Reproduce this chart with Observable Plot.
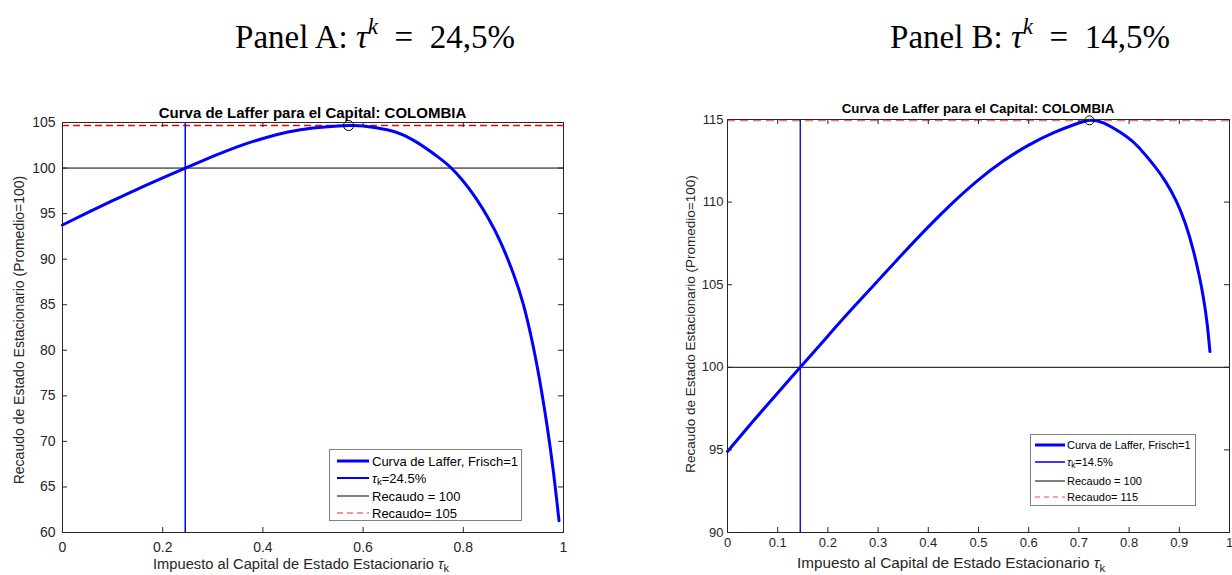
<!DOCTYPE html>
<html><head><meta charset="utf-8">
<script src="https://cdn.jsdelivr.net/npm/d3@7"></script>
<script src="https://cdn.jsdelivr.net/npm/@observablehq/plot@0.6"></script>
<style>
body{margin:0;background:#fff;}
#root{position:relative;width:1232px;height:575px;overflow:hidden;font-family:"Liberation Sans",Arial,Helvetica,sans-serif;color:#262626;background:#fff}
.abs{position:absolute;white-space:nowrap;line-height:1}
.c{transform:translate(-50%,-50%)}
.panel{font-family:"Liberation Serif","DejaVu Serif",serif;color:#000}
.title{font-weight:bold;color:#000}
.ylab{transform:translate(-50%,-50%) rotate(-90deg)}
.legend{position:absolute;border:1px solid #808080;background:#fff;box-sizing:border-box}
.row{position:absolute;left:0;white-space:nowrap;color:#000;line-height:1}
.row svg{position:absolute;top:-3px}
.row span{position:absolute;transform:translateY(-50%)}
sub{font-size:75%;vertical-align:-0.3em;line-height:0}
sup{font-size:70%;vertical-align:0.6em;line-height:0}
svg.plot{position:absolute;top:0}
</style></head><body><div id="root"></div>
<script>
// ---------- data ----------
// Panel A (tau_k = 24.5%)
const tauA = [0,0.05,0.1,0.15,0.2,0.245,0.3,0.35,0.4,0.45,0.5,0.55,0.575,0.6,0.65,0.7,0.75,0.776,0.8,0.825,0.85,0.875,0.9,0.92,0.94,0.955,0.967,0.98,0.991];
const revA = [93.75,95.1,96.42,97.7,98.92,100,101.27,102.35,103.25,103.95,104.4,104.62,104.67,104.62,104.17,103.07,101.2,100,98.55,96.7,94.5,91.8,88.4,85.0,80.3,75.9,71.8,66.6,61.3];
// Panel B (tau_k = 14.5%)
const tauB = [0,0.05,0.1,0.145,0.2,0.25,0.3,0.35,0.4,0.45,0.5,0.55,0.6,0.65,0.69,0.721,0.75,0.794,0.82,0.848,0.872,0.894,0.912,0.9275,0.94,0.9475,0.955,0.961];
const revB = [94.9,96.7,98.45,100,101.9,103.6,105.25,106.9,108.5,110.0,111.35,112.5,113.45,114.2,114.68,114.95,114.78,113.99,113.29,112.28,111.27,110.06,108.71,107.13,105.5,104.3,102.76,100.95];
// reference lines / markers  [A, B]
const taxRate = [0.245, 0.145];
const baseRevenue = [100, 100];
const peakTau = [0.571, 0.721];
const peakRev = [104.67, 114.95];
// axes
const xTicksA = [0,0.2,0.4,0.6,0.8,1];
const yTicksA = [60,65,70,75,80,85,90,95,100,105];
const xTicksB = [0,0.1,0.2,0.3,0.4,0.5,0.6,0.7,0.8,0.9,1];
const yTicksB = [90,95,100,105,110,115];
const yDomainA = [60,105];
const yDomainB = [90,115];
// texts
const panelLabels = ["Panel A: ", "Panel B: "];
const panelRates = ["24,5%", "14,5%"];
const chartTitle = "Curva de Laffer para el Capital: COLOMBIA";
const yLabel = "Recaudo de Estado Estacionario (Promedio=100)";
const xLabel = "Impuesto al Capital de Estado Estacionario ";
const legendCurve = "Curva de Laffer, Frisch=1";
const legendRate = ["=24.5%", "=14.5%"];
const legendBase = "Recaudo = 100";
const legendPeak = ["Recaudo= 105", "Recaudo= 115"];

const root = document.getElementById("root");
const font = '"Liberation Sans", Arial, Helvetica, sans-serif';

function makePanel(o) {
  const curve = o.tau.map((t, i) => ({t, r: o.rev[i]}));
  const fw = o.width - o.mL - o.mR, fh = 575 - o.mT - o.mB, tl = 5;
  const svg = Plot.plot({
    width: o.width, height: 575,
    marginLeft: o.mL, marginRight: o.mR, marginTop: o.mT, marginBottom: o.mB,
    style: {fontFamily: font, fontSize: o.fs + "px", color: "#262626", background: "none", overflow: "visible"},
    x: {domain: [0, 1], axis: null},
    y: {domain: o.yDomain, axis: null},
    marks: [
      Plot.ruleY([o.base], {stroke: "#000", strokeWidth: 1}),
      Plot.ruleY([o.peakR], {stroke: o.dashColor, strokeDasharray: o.dash, strokeWidth: o.dashW}),
      Plot.ruleX([o.rate], {stroke: o.vColor, strokeWidth: 1.5}),
      Plot.line(curve, {x: "t", y: "r", stroke: "#0000ff", strokeWidth: 3, curve: "natural"}),
      Plot.dot([{t: o.peakT, r: o.peakR}], {x: "t", y: "r", r: o.dotR, stroke: "#000", fill: "none", strokeWidth: 1}),
      // inward tick marks on all four sides (MATLAB box style)
      Plot.tickX(o.xTicks, {x: d => d, stroke: "#262626", insetTop: fh - tl}),
      Plot.tickX(o.xTicks, {x: d => d, stroke: "#262626", insetBottom: fh - tl}),
      Plot.tickY(o.yTicks, {y: d => d, stroke: "#262626", insetRight: fw - tl}),
      Plot.tickY(o.yTicks, {y: d => d, stroke: "#262626", insetLeft: fw - tl}),
      Plot.frame({stroke: "#262626", strokeWidth: 1}),
      Plot.axisX(o.xTicks, {anchor: "bottom", tickSize: 0, tickPadding: o.xPad, tickFormat: d => String(d), fontSize: o.fs, label: null}),
      Plot.axisY(o.yTicks, {anchor: "left", tickSize: 0, tickPadding: o.yPad, tickFormat: d => String(d), fontSize: o.fs, label: null})
    ]
  });
  svg.classList.add("plot");
  svg.style.left = o.left + "px";
  root.appendChild(svg);
}

makePanel({tau: tauA, rev: revA, xTicks: xTicksA, yTicks: yTicksA, yDomain: yDomainA,
  rate: taxRate[0], base: baseRevenue[0], peakT: peakTau[0], peakR: peakRev[0],
  width: 616, left: 0, mL: 62, mR: 53, mT: 122, mB: 43, fs: 14, xPad: 10, yPad: 7,
  vColor: "#0000ff", dashColor: "#ff0000", dash: "7,4", dashW: 1.3, dotR: 5});
makePanel({tau: tauB, rev: revB, xTicks: xTicksB, yTicks: yTicksB, yDomain: yDomainB,
  rate: taxRate[1], base: baseRevenue[1], peakT: peakTau[1], peakR: peakRev[1],
  width: 616, left: 616, mL: 111, mR: 3, mT: 119, mB: 43, fs: 13, xPad: 5, yPad: 4,
  vColor: "#1c1ca0", dashColor: "#ff6a6a", dash: "8,5", dashW: 2, dotR: 4.5});

function add(html, cls, x, y, styles) {
  const d = document.createElement("div");
  d.className = "abs " + cls;
  d.innerHTML = html;
  d.style.left = x + "px"; d.style.top = y + "px";
  Object.assign(d.style, styles || {});
  root.appendChild(d);
  return d;
}
// panel labels
const eq = "\u2002=\u2002";
add(panelLabels[0] + "<i>τ</i><sup><i>k</i></sup>" + eq + panelRates[0], "panel c", 375, 37, {fontSize: "33px"});
add(panelLabels[1] + "<i>τ</i><sup><i>k</i></sup>" + eq + panelRates[1], "panel c", 1030, 37, {fontSize: "33px"});
// titles
add(chartTitle, "title c", 312.5, 112, {fontSize: "15px"});
add(chartTitle, "title c", 978, 109, {fontSize: "13.3px"});
// x labels
add(xLabel + "<i>τ</i><sub>k</sub>", "c", 301, 564, {fontSize: "14.7px"});
add(xLabel + "<i>τ</i><sub>k</sub>", "c", 951, 563, {fontSize: "15.3px"});
// y labels
add(yLabel, "ylab", 19, 330, {fontSize: "14px"});
add(yLabel, "ylab", 691, 324, {fontSize: "13.5px"});

// legends
function legend(x, y, w, h, fs, rows, sx, sw, tx) {
  const box = document.createElement("div");
  box.className = "legend";
  Object.assign(box.style, {left: x + "px", top: y + "px", width: w + "px", height: h + "px", fontSize: fs + "px"});
  rows.forEach(r => {
    const row = document.createElement("div");
    row.className = "row";
    row.style.top = r.cy + "px";
    row.innerHTML = `<svg width="${sx + sw + 2}" height="6" style="left:0"><line x1="${sx}" x2="${sx + sw}" y1="3" y2="3" stroke="${r.color}" stroke-width="${r.w}" ${r.dash ? `stroke-dasharray="${r.dash}"` : ""}/></svg><span style="left:${tx}px">${r.text}</span>`;
    box.appendChild(row);
  });
  root.appendChild(box);
}
legend(329, 449, 193, 72, 13, [
  {cy: 11, color: "#0000ff", w: 3, text: legendCurve},
  {cy: 28, color: "#0000ff", w: 2, text: "<i>τ</i><sub>k</sub>" + legendRate[0]},
  {cy: 46, color: "#000", w: 1, text: legendBase},
  {cy: 63, color: "#ff2020", w: 1, dash: "6,4", text: legendPeak[0]}
], 7, 32, 42);
legend(1030, 434, 166, 72, 11, [
  {cy: 10, color: "#0000ff", w: 3, text: legendCurve},
  {cy: 27, color: "#3b3bff", w: 2, text: "<i>τ</i><sub>k</sub>" + legendRate[1]},
  {cy: 46, color: "#000", w: 1, text: legendBase},
  {cy: 62, color: "#ff4040", w: 1, dash: "5,4", text: legendPeak[1]}
], 4, 30, 36);
</script></body></html>
